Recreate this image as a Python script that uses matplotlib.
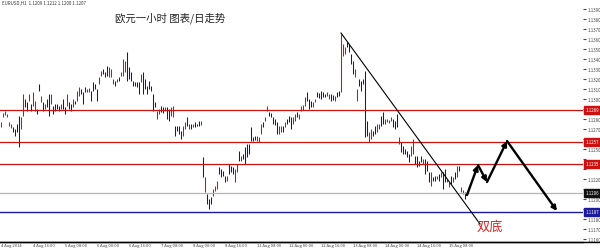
import numpy as np
import matplotlib.pyplot as plt
from matplotlib.lines import Line2D
import matplotlib.transforms as mtransforms

plt.rcParams['font.family'] = ['Noto Sans CJK SC', 'DejaVu Sans']

# EURUSD H1 bars (open, close), one per bar, oldest first
opens = [
    1.1272, 1.1282, 1.1284, 1.1282, 1.1273, 1.1271, 1.1272, 1.1270, 1.1275, 1.1283,
    1.1270, 1.1283, 1.1300, 1.1297, 1.1298, 1.1295, 1.1293, 1.1288, 1.1290, 1.1315,
    1.1297, 1.1297, 1.1290, 1.1300, 1.1305, 1.1295, 1.1293, 1.1295, 1.1295, 1.1293,
    1.1290, 1.1300, 1.1292, 1.1293, 1.1297, 1.1295, 1.1292, 1.1298, 1.1298, 1.1303,
    1.1310, 1.1307, 1.1312, 1.1307, 1.1307, 1.1308, 1.1317, 1.1315, 1.1310, 1.1315,
    1.1323, 1.1330, 1.1327, 1.1333, 1.1322, 1.1322, 1.1315, 1.1318, 1.1317, 1.1322,
    1.1323, 1.1323, 1.1327, 1.1347, 1.1332, 1.1327, 1.1318, 1.1317, 1.1317, 1.1317,
    1.1317, 1.1327, 1.1320, 1.1313, 1.1318, 1.1313, 1.1305, 1.1297, 1.1280, 1.1285,
    1.1293, 1.1292, 1.1288, 1.1292, 1.1290, 1.1283, 1.1282, 1.1273, 1.1273, 1.1273,
    1.1268, 1.1263, 1.1270, 1.1282, 1.1270, 1.1275, 1.1272, 1.1277, 1.1275, 1.1278,
    1.1274, 1.1242, 1.1207, 1.1205, 1.1200, 1.1202, 1.1203, 1.1208, 1.1210, 1.1232,
    1.1230, 1.1228, 1.1223, 1.1218, 1.1235, 1.1233, 1.1232, 1.1217, 1.1227, 1.1248,
    1.1238, 1.1245, 1.1252, 1.1255, 1.1255, 1.1272, 1.1262, 1.1263, 1.1258, 1.1257,
    1.1265, 1.1277, 1.1278, 1.1288, 1.1287, 1.1286, 1.1282, 1.1280, 1.1277, 1.1265,
    1.1267, 1.1273, 1.1272, 1.1280, 1.1283, 1.1282, 1.1275, 1.1278, 1.1287, 1.1280,
    1.1288, 1.1289, 1.1293, 1.1307, 1.1300, 1.1298, 1.1292, 1.1297, 1.1307, 1.1306,
    1.1308, 1.1307, 1.1305, 1.1303, 1.1300, 1.1305, 1.1304, 1.1298, 1.1307, 1.1308,
    1.1307, 1.1343, 1.1345, 1.1357, 1.1355, 1.1345, 1.1338, 1.1322, 1.1298, 1.1320,
    1.1318, 1.1320, 1.1328, 1.1278, 1.1257, 1.1260, 1.1268, 1.1273, 1.1267, 1.1270,
    1.1283, 1.1287, 1.1275, 1.1277, 1.1276, 1.1278, 1.1280, 1.1278, 1.1285, 1.1255,
    1.1257, 1.1253, 1.1250, 1.1248, 1.1245, 1.1243, 1.1245, 1.1243, 1.1243, 1.1238,
    1.1243, 1.1235, 1.1240, 1.1238, 1.1227, 1.1213, 1.1222, 1.1223, 1.1220, 1.1225,
    1.1222, 1.1227, 1.1230, 1.1217, 1.1212, 1.1223, 1.1217, 1.1227, 1.1222, 1.1233,
    1.1207, 1.1205, 1.1207,
]
closes = [
    1.1277, 1.1286, 1.1288, 1.1285, 1.1277, 1.1275, 1.1267, 1.1263, 1.1267, 1.1252,
    1.1282, 1.1305, 1.1292, 1.1288, 1.1305, 1.1288, 1.1307, 1.1298, 1.1285, 1.1308,
    1.1303, 1.1288, 1.1295, 1.1292, 1.1283, 1.1305, 1.1285, 1.1288, 1.1290, 1.1288,
    1.1295, 1.1290, 1.1285, 1.1305, 1.1290, 1.1288, 1.1300, 1.1295, 1.1308, 1.1312,
    1.1305, 1.1295, 1.1307, 1.1310, 1.1311, 1.1298, 1.1308, 1.1310, 1.1298, 1.1322,
    1.1328, 1.1325, 1.1322, 1.1323, 1.1332, 1.1330, 1.1320, 1.1313, 1.1320, 1.1318,
    1.1327, 1.1340, 1.1338, 1.1318, 1.1320, 1.1318, 1.1313, 1.1313, 1.1312, 1.1305,
    1.1325, 1.1305, 1.1310, 1.1305, 1.1310, 1.1308, 1.1288, 1.1292, 1.1288, 1.1290,
    1.1287, 1.1286, 1.1292, 1.1280, 1.1278, 1.1292, 1.1293, 1.1263, 1.1268, 1.1265,
    1.1260, 1.1273, 1.1277, 1.1273, 1.1275, 1.1270, 1.1275, 1.1272, 1.1273, 1.1273,
    1.1278, 1.1222, 1.1222, 1.1195, 1.1190, 1.1195, 1.1210, 1.1213, 1.1218, 1.1225,
    1.1222, 1.1223, 1.1217, 1.1223, 1.1225, 1.1227, 1.1225, 1.1230, 1.1235, 1.1238,
    1.1243, 1.1240, 1.1235, 1.1242, 1.1245, 1.1258, 1.1258, 1.1259, 1.1263, 1.1262,
    1.1275, 1.1272, 1.1282, 1.1293, 1.1283, 1.1282, 1.1275, 1.1274, 1.1265, 1.1273,
    1.1273, 1.1267, 1.1277, 1.1275, 1.1277, 1.1270, 1.1282, 1.1285, 1.1282, 1.1285,
    1.1293, 1.1294, 1.1302, 1.1298, 1.1290, 1.1292, 1.1297, 1.1300, 1.1302, 1.1301,
    1.1300, 1.1302, 1.1302, 1.1307, 1.1305, 1.1298, 1.1299, 1.1303, 1.1302, 1.1303,
    1.1365, 1.1355, 1.1352, 1.1352, 1.1347, 1.1335, 1.1325, 1.1330, 1.1310, 1.1313,
    1.1308, 1.1315, 1.1262, 1.1263, 1.1267, 1.1270, 1.1263, 1.1265, 1.1275, 1.1275,
    1.1273, 1.1275, 1.1280, 1.1280, 1.1279, 1.1282, 1.1272, 1.1270, 1.1272, 1.1262,
    1.1247, 1.1245, 1.1245, 1.1242, 1.1237, 1.1253, 1.1260, 1.1235, 1.1232, 1.1233,
    1.1237, 1.1240, 1.1225, 1.1228, 1.1217, 1.1227, 1.1218, 1.1218, 1.1223, 1.1218,
    1.1227, 1.1210, 1.1217, 1.1220, 1.1217, 1.1215, 1.1222, 1.1220, 1.1233, 1.1228,
    1.1212, 1.1209, 1.1200,
]

red_levels = [1.1289, 1.1257, 1.1235]
gray_level = 1.1206
blue_level = 1.1187

# trend line from the spike high, and the projected path (bar index, price)
trend_x = [170, 239.5]
trend_y = [1.1366, 1.1175]
path_x = [233, 238.5, 243, 253, 278]
path_y = [1.1204, 1.1234, 1.1217, 1.1258, 1.1188]

price_ticks = [round(1.1160 + 0.0010 * k, 4) for k in range(24)]
time_pos = list(range(0, 240, 16))
time_labels = ['4 Aug 2014', '4 Aug 16:00', '5 Aug 08:00', '6 Aug 00:00', '6 Aug 16:00',
               '7 Aug 08:00', '8 Aug 00:00', '8 Aug 16:00', '11 Aug 08:00', '12 Aug 00:00',
               '12 Aug 16:00', '13 Aug 08:00', '14 Aug 00:00', '14 Aug 16:00', '15 Aug 08:00']

RED = '#d01010'
BLUE = '#10109a'

fig = plt.figure(figsize=(6.0, 2.51), dpi=100)
ax = fig.add_axes([0, 8 / 251, 583 / 600, 243 / 251])

o = np.array(opens)
c = np.array(closes)
x = np.arange(len(o))
cols = np.where(c >= o, RED, BLUE)
ax.vlines(x, np.minimum(o, c), np.maximum(o, c), colors=cols, lw=0.75)

for lv in red_levels:
    ax.axhline(lv, color='#cc1111', lw=0.9)
ax.axhline(gray_level, color='#b4b4b4', lw=0.9)
ax.axhline(blue_level, color='#1a1a9a', lw=1.0)

ax.plot(trend_x, trend_y, color='black', lw=0.8)
for k in range(len(path_x) - 1):
    ax.annotate('', xy=(path_x[k + 1], path_y[k + 1]), xytext=(path_x[k], path_y[k]),
                arrowprops=dict(arrowstyle='-|>', lw=1.7, color='black',
                                mutation_scale=7, shrinkA=0, shrinkB=0))

ax.set_xlim(-0.5, 291)
ax.set_ylim(1.1157, 1.1400)

# price scale: the level boxes cover the plain labels next to them
box_levels = red_levels + [gray_level, blue_level]
shown = [t for t in price_ticks if min(abs(t - b) for b in box_levels) > 0.00055]
ax.yaxis.tick_right()
ax.set_yticks(price_ticks)
ax.set_yticklabels([f'{t:.4f}' if t in shown else '' for t in price_ticks])
ax.tick_params(axis='y', labelsize=3.2, length=2, pad=1, colors='#444444')
ax.set_xticks(time_pos)
ax.set_xticklabels(time_labels, ha='left')
ax.tick_params(axis='x', labelsize=3, length=0, pad=0.8, colors='#444444')
for s in ['top', 'left', 'right']:
    ax.spines[s].set_visible(False)
ax.spines['bottom'].set_color('black')
ax.spines['bottom'].set_linewidth(1)
fig.add_artist(Line2D([0, 1], [8 / 251, 8 / 251], color='black', lw=1))

trans = mtransforms.blended_transform_factory(ax.transAxes, ax.transData)
boxes = [(lv, '#cc1111') for lv in red_levels] + [(gray_level, '#111111'), (blue_level, '#1a1a9a')]
for lv, bc in boxes:
    ax.text(1.004, lv, f'{lv:.4f}', transform=trans, fontsize=3.2, color='white',
            va='center', ha='left', clip_on=False,
            bbox=dict(boxstyle='square,pad=0.25', fc=bc, ec=bc))

ax.text(0.004, 0.995, 'EURUSD,H1  1.1209 1.1212 1.1200 1.1207', transform=ax.transAxes,
        fontsize=3.2, color='#333333', va='top', ha='left')
ax.text(0.292, 0.926, '欧元一小时 图表/日走势', transform=ax.transAxes,
        fontsize=7.5, color='#222222', va='center', ha='center')
ax.text(0.8405, 0.066, '双底', transform=ax.transAxes,
        fontsize=9.5, color='#dd2222', va='center', ha='center')

fig.savefig('out.png', dpi=100)
